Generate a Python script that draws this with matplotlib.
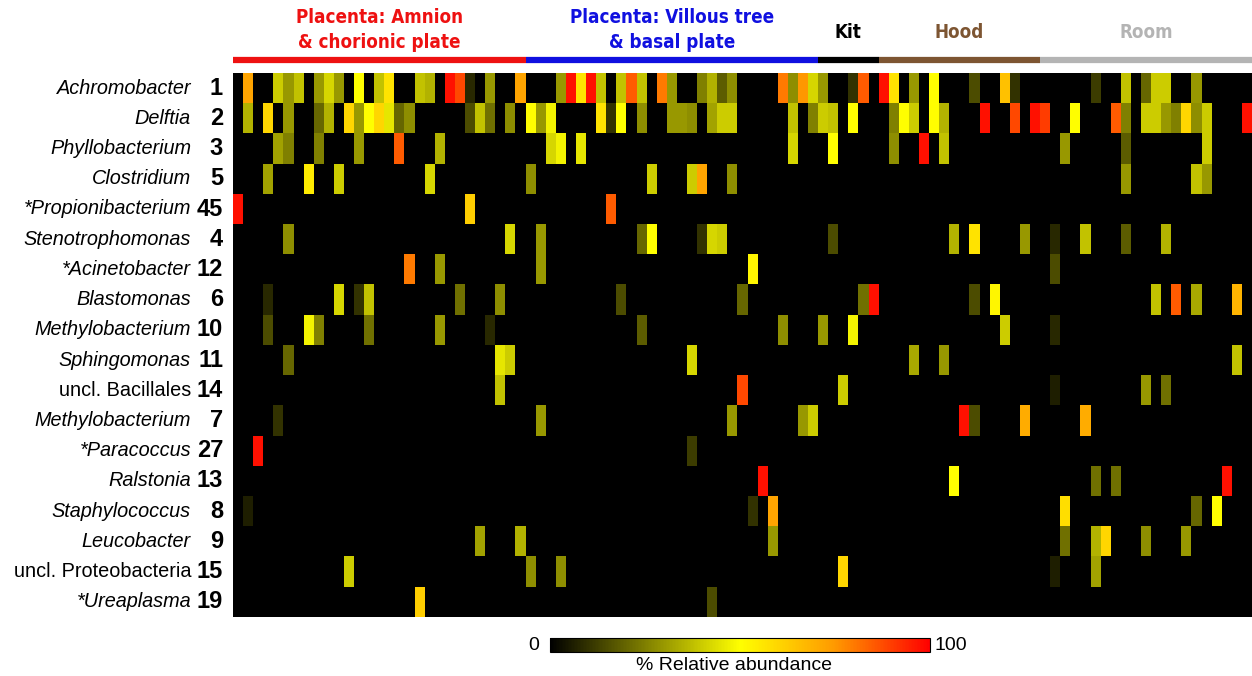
import numpy as np
import matplotlib
matplotlib.use('Agg')
import matplotlib.pyplot as plt
from matplotlib.colors import LinearSegmentedColormap
from matplotlib.transforms import blended_transform_factory

plt.rcParams['font.family'] = ['Liberation Sans', 'DejaVu Sans']

# taxa (rows, top to bottom) and their OTU numbers
taxa = ['Achromobacter', 'Delftia', 'Phyllobacterium', 'Clostridium',
        '*Propionibacterium', 'Stenotrophomonas', '*Acinetobacter',
        'Blastomonas', 'Methylobacterium', 'Sphingomonas', 'uncl. Bacillales',
        'Methylobacterium', '*Paracoccus', 'Ralstonia', 'Staphylococcus',
        'Leucobacter', 'uncl. Proteobacteria', '*Ureaplasma']
otu = [1, 2, 3, 5, 45, 4, 12, 6, 10, 11, 14, 7, 27, 13, 8, 9, 15, 19]

# sample groups: name, number of samples, colour
groups = ['Placenta: Amnion\n& chorionic plate', 'Placenta: Villous tree\n& basal plate',
          'Kit', 'Hood', 'Room']
group_sizes = [29, 29, 6, 16, 21]
group_colors = ['#ee1111', '#1010e0', '#000000', '#7d5532', '#b4b4b4']

# % relative abundance, non-zero cells only: {sample index: value}
abundance = [
    {1: 72, 4: 40, 5: 30, 6: 38, 8: 30, 9: 42, 10: 30, 12: 50, 14: 38, 15: 57, 18: 38,
     19: 35, 21: 97, 22: 88, 23: 8, 25: 30, 28: 72, 32: 30, 33: 97, 34: 57, 35: 97,
     36: 38, 38: 38, 39: 85, 40: 38, 42: 80, 43: 30, 46: 25, 47: 35, 48: 18, 49: 28,
     54: 80, 55: 28, 56: 75, 57: 42, 58: 30, 61: 10, 62: 85, 64: 97, 65: 57, 67: 30,
     69: 50, 73: 15, 76: 65, 77: 10, 85: 12, 88: 38, 90: 20, 91: 40, 92: 40, 95: 30},
    {1: 35, 3: 60, 5: 30, 8: 20, 9: 35, 11: 60, 12: 30, 13: 50, 14: 60, 15: 45, 16: 20,
     17: 28, 23: 15, 24: 38, 25: 22, 27: 28, 29: 50, 30: 30, 31: 48, 36: 57, 37: 10,
     38: 50, 40: 28, 43: 30, 44: 30, 45: 28, 47: 32, 48: 40, 49: 40, 55: 38, 57: 25,
     58: 40, 59: 38, 61: 50, 65: 25, 66: 50, 67: 40, 69: 50, 70: 35, 74: 97, 77: 88,
     79: 97, 80: 90, 83: 50, 87: 85, 88: 25, 90: 40, 91: 40, 92: 30, 93: 25, 94: 60,
     95: 28, 96: 40, 100: 97},
    {4: 32, 5: 25, 8: 25, 12: 30, 16: 85, 20: 35, 31: 42, 32: 48, 34: 45, 55: 42,
     59: 50, 65: 28, 68: 97, 70: 38, 82: 30, 88: 18, 96: 40},
    {3: 32, 7: 55, 10: 40, 19: 42, 29: 28, 41: 40, 45: 40, 46: 72, 49: 28, 88: 30,
     95: 38, 96: 30},
    {0: 97, 23: 62, 37: 85},
    {5: 28, 27: 42, 30: 30, 40: 20, 41: 50, 46: 10, 47: 42, 48: 40, 59: 15, 71: 35,
     73: 57, 78: 30, 81: 8, 84: 38, 88: 18, 92: 35},
    {17: 80, 20: 30, 30: 30, 51: 52, 81: 15},
    {3: 8, 10: 42, 12: 10, 13: 38, 22: 22, 26: 28, 38: 15, 50: 20, 62: 22, 63: 97,
     73: 15, 75: 52, 91: 38, 93: 85, 95: 33, 99: 68},
    {3: 15, 7: 48, 8: 25, 13: 22, 20: 30, 25: 8, 40: 18, 54: 28, 58: 30, 61: 48,
     76: 40, 81: 8},
    {5: 20, 26: 45, 27: 40, 45: 42, 67: 33, 70: 30, 99: 38},
    {26: 38, 50: 88, 60: 40, 81: 6, 90: 30, 92: 22},
    {4: 10, 30: 30, 49: 30, 56: 30, 57: 40, 72: 97, 73: 15, 78: 70, 84: 70},
    {2: 97, 45: 12},
    {52: 97, 71: 50, 85: 22, 87: 22, 98: 97},
    {1: 6, 51: 10, 53: 72, 82: 58, 95: 20, 97: 50},
    {24: 32, 28: 35, 53: 30, 82: 22, 85: 35, 86: 60, 90: 28, 94: 30},
    {11: 40, 29: 28, 32: 28, 60: 60, 81: 6, 85: 32},
    {18: 62, 47: 15},
]

n_samples = sum(group_sizes)
mat = np.zeros((len(taxa), n_samples))
for i, row in enumerate(abundance):
    for j, v in row.items():
        mat[i, j] = v

cmap = LinearSegmentedColormap.from_list(
    'heat', [(0, '#000000'), (0.5, '#ffff00'), (0.75, '#ff9900'), (1.0, '#ff0000')])

W, H = 1252, 676
fig = plt.figure(figsize=(W / 100, H / 100), dpi=100)
ax = fig.add_axes([233 / W, 1 - 617 / H, (1252 - 233) / W, (617 - 73) / H])
im = ax.imshow(mat, aspect='auto', cmap=cmap, vmin=0, vmax=100, interpolation='nearest')
ax.set_xticks([])
ax.set_yticks([])
for s in ax.spines.values():
    s.set_visible(False)

# row labels
for i, (name, n) in enumerate(zip(taxa, otu)):
    style = 'normal' if name.startswith('uncl.') else 'italic'
    ax.annotate(name, xy=(0, i), xycoords=('axes fraction', 'data'),
                xytext=(-42, 0), textcoords='offset pixels',
                ha='right', va='center', fontsize=14.3, fontstyle=style)
    ax.annotate(str(n), xy=(0, i), xycoords=('axes fraction', 'data'),
                xytext=(-10, 0), textcoords='offset pixels',
                ha='right', va='center', fontsize=17, fontweight='bold')

# group bars and labels
trans = blended_transform_factory(ax.transData, ax.transAxes)
start = -0.5
for name, size, col in zip(groups, group_sizes, group_colors):
    ax.plot([start, start + size], [1.024, 1.024], color=col, lw=4.5,
            solid_capstyle='butt', transform=trans, clip_on=False)
    ty = 1.079 if '\n' in name else 1.074
    ax.text(start + size / 2, ty, name, transform=trans, ha='center', va='center',
            fontsize=13.5, fontweight='bold', color=col, linespacing=1.4,
            family='DejaVu Sans', fontstretch='condensed')
    start += size

# colorbar
cax = fig.add_axes([550 / W, 1 - 652 / H, 380 / W, 14 / H])
cb = fig.colorbar(im, cax=cax, orientation='horizontal')
cb.set_ticks([])
cb.outline.set_linewidth(0.8)
fig.text(539 / W, 1 - 645 / H, '0', ha='right', va='center', fontsize=14)
fig.text(934 / W, 1 - 645 / H, '100', ha='left', va='center', fontsize=14)
fig.text(734 / W, 1 - 665 / H, '% Relative abundance', ha='center', va='center', fontsize=14)

fig.savefig('out.png', dpi=100)
